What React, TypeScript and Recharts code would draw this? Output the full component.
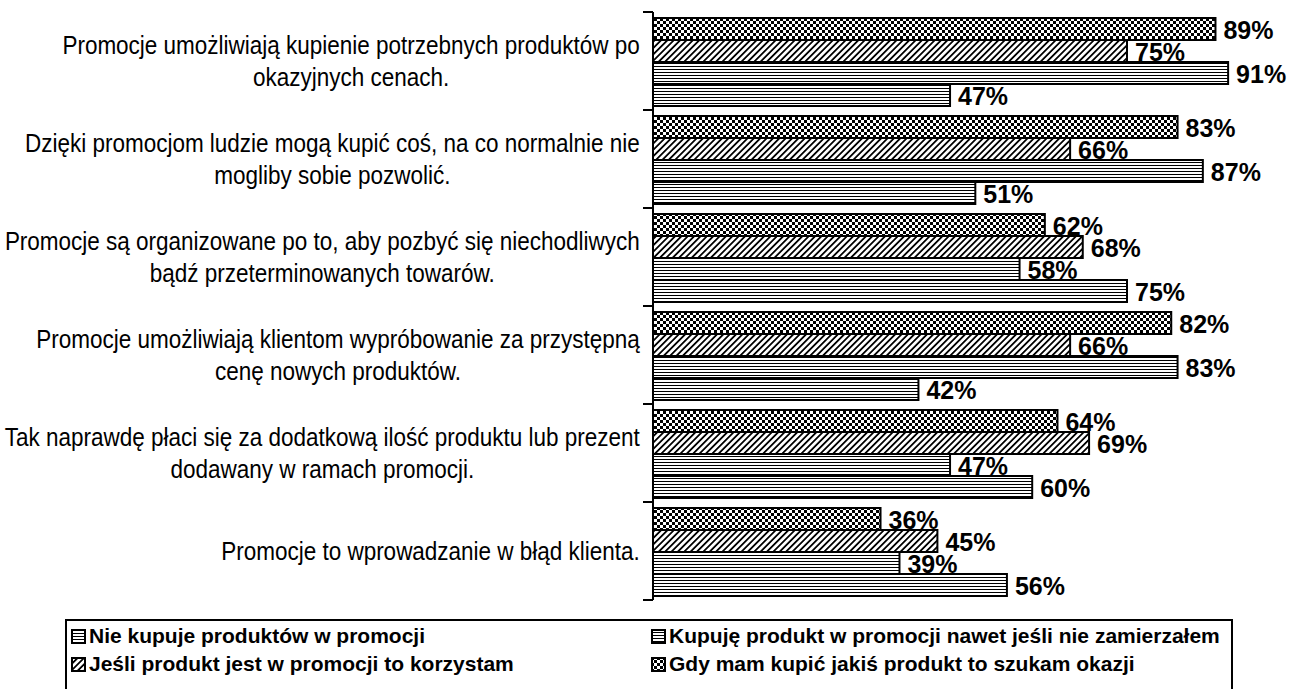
import React from 'react';
import { BarChart, Bar, XAxis, YAxis, LabelList } from 'recharts';

const categories = [
  'Promocje umożliwiają kupienie potrzebnych produktów po\nokazyjnych cenach.',
  'Dzięki promocjom ludzie mogą kupić coś, na co normalnie nie\nmogliby sobie pozwolić.',
  'Promocje są organizowane po to, aby pozbyć się niechodliwych\nbądź przeterminowanych towarów.',
  'Promocje umożliwiają klientom wypróbowanie za przystępną\ncenę nowych produktów.',
  'Tak naprawdę płaci się za dodatkową ilość produktu lub prezent\ndodawany w ramach promocji.',
  'Promocje to wprowadzanie w błąd klienta.',
];

const gdyMamKupic = [89, 83, 62, 82, 64, 36];
const jesliWPromocji = [75, 66, 68, 66, 69, 45];
const kupujeNawet = [91, 87, 58, 83, 47, 39];
const nieKupuje = [47, 51, 75, 42, 60, 56];

const seriesNames = {
  nie: 'Nie kupuje produktów w promocji',
  kupuje: 'Kupuję produkt w promocji nawet jeśli nie zamierzałem',
  jesli: 'Jeśli produkt jest w promocji to korzystam',
  gdy: 'Gdy mam kupić jakiś produkt to szukam okazji',
};

const data = categories.map((name, i) => ({
  name,
  gdy: gdyMamKupic[i],
  jesli: jesliWPromocji[i],
  kupuje: kupujeNawet[i],
  nie: nieKupuje[i],
}));

const FONT = "'Liberation Sans', Arial, sans-serif";
const AXIS_X = 653;
const TEXT_RIGHT = 640;
const CAT_SIZE = 25;
const CAT_SCALE_X = 0.9;

let ctx: CanvasRenderingContext2D | null = null;
function measure(s: string, font: string) {
  if (!ctx) ctx = document.createElement('canvas').getContext('2d');
  if (!ctx) return s.length * 10;
  ctx.font = font;
  return ctx.measureText(s).width;
}

function CategoryTick(props: any) {
  const { y, payload, index } = props;
  const half = payload.offset ?? 49;
  const lines: string[] = String(payload.value).split('\n');
  const widths = lines.map((l) => measure(l, `${CAT_SIZE}px ${FONT}`) * CAT_SCALE_X);
  const maxW = Math.max(...widths);
  const cx = TEXT_RIGHT - maxW / 2;
  const lh = 32;
  const y0 = y - ((lines.length - 1) * lh) / 2;
  return (
    <g>
      <line x1={AXIS_X - 10} x2={AXIS_X} y1={y - half} y2={y - half} stroke="#000" strokeWidth={2} />
      {index === categories.length - 1 && (
        <line x1={AXIS_X - 10} x2={AXIS_X} y1={y + half} y2={y + half} stroke="#000" strokeWidth={2} />
      )}
      {lines.map((l, i) => (
        <text
          key={i}
          transform={`translate(${cx},${y0 + i * lh}) scale(${CAT_SCALE_X},1)`}
          textAnchor="middle"
          dominantBaseline="central"
          fontFamily={FONT}
          fontSize={CAT_SIZE}
          fill="#000"
        >
          {l}
        </text>
      ))}
    </g>
  );
}

function ValueLabel(props: any) {
  const { x, y, width, height, value } = props;
  const txt = `${value}%`;
  const w = measure(txt, `bold 25px ${FONT}`);
  const tx = x + width + 8;
  const cy = y + height / 2;
  return (
    <g>
      <rect x={tx - 3} y={cy - 10} width={w + 6} height={20} fill="#fff" />
      <text x={tx} y={cy + 1} dominantBaseline="central" fontFamily={FONT} fontSize={25} fontWeight="bold" fill="#000">
        {txt}
      </text>
    </g>
  );
}

function Patterns() {
  return (
    <svg width={0} height={0} style={{ position: 'absolute' }}>
      <defs>
        <pattern id="pCheck" patternUnits="userSpaceOnUse" width={6} height={6}>
          <rect width={6} height={6} fill="#fff" />
          <rect x={0} y={0} width={3} height={3} fill="#000" />
          <rect x={3} y={3} width={3} height={3} fill="#000" />
        </pattern>
        <pattern id="pDiag" patternUnits="userSpaceOnUse" width={4.5} height={4.5} patternTransform="rotate(45)">
          <rect width={4.5} height={4.5} fill="#fff" />
          <rect x={0} y={0} width={1.8} height={4.5} fill="#000" />
        </pattern>
        <pattern id="pLinesA" patternUnits="userSpaceOnUse" width={4} height={3}>
          <rect width={4} height={3} fill="#fff" />
          <rect x={0} y={0} width={4} height={1} fill="#000" />
        </pattern>
        <pattern id="pLinesB" patternUnits="userSpaceOnUse" width={4} height={3}>
          <rect width={4} height={3} fill="#fff" />
          <rect x={0} y={1} width={4} height={1} fill="#000" />
        </pattern>
      </defs>
    </svg>
  );
}

const legendItems = [
  { key: 'nie', fill: 'url(#pLinesB)' },
  { key: 'kupuje', fill: 'url(#pLinesA)' },
  { key: 'jesli', fill: 'url(#pDiag)' },
  { key: 'gdy', fill: 'url(#pCheck)' },
];

function LegendBox() {
  return (
    <div
      style={{
        position: 'absolute',
        left: 65,
        top: 619,
        width: 1168,
        height: 90,
        border: '2px solid #000',
        boxSizing: 'border-box',
        display: 'grid',
        gridTemplateColumns: '580px 1fr',
        gridAutoRows: '28px',
        paddingTop: 1,
        paddingLeft: 4,
        fontFamily: FONT,
        fontWeight: 'bold',
        fontSize: 21,
      }}
    >
      {legendItems.map((it) => (
        <div key={it.key} style={{ display: 'flex', alignItems: 'center', whiteSpace: 'nowrap' }}>
          <svg width={15} height={15} style={{ marginRight: 3 }}>
            <rect x={1} y={1} width={13} height={13} fill={it.fill} stroke="#000" strokeWidth={2} />
          </svg>
          {seriesNames[it.key as keyof typeof seriesNames]}
        </div>
      ))}
    </div>
  );
}

export default function App() {
  return (
    <div style={{ position: 'absolute', left: 0, top: 0, width: 1300, height: 689, background: '#fff', overflow: 'hidden' }}>
      <Patterns />
      <BarChart
        width={1300}
        height={689}
        data={data}
        layout="vertical"
        margin={{ top: 12, right: 15, left: 0, bottom: 89 }}
        barCategoryGap={6}
        barGap={0}
      >
        <XAxis type="number" domain={[0, 100]} hide />
        <YAxis
          type="category"
          dataKey="name"
          width={AXIS_X}
          interval={0}
          axisLine={{ stroke: '#000', strokeWidth: 2 }}
          tickLine={false}
          tick={<CategoryTick />}
        />
        <Bar dataKey="gdy" fill="url(#pCheck)" stroke="#000" strokeWidth={2} isAnimationActive={false}>
          <LabelList dataKey="gdy" content={<ValueLabel />} />
        </Bar>
        <Bar dataKey="jesli" fill="url(#pDiag)" stroke="#000" strokeWidth={2} isAnimationActive={false}>
          <LabelList dataKey="jesli" content={<ValueLabel />} />
        </Bar>
        <Bar dataKey="kupuje" fill="url(#pLinesA)" stroke="#000" strokeWidth={2} isAnimationActive={false}>
          <LabelList dataKey="kupuje" content={<ValueLabel />} />
        </Bar>
        <Bar dataKey="nie" fill="url(#pLinesB)" stroke="#000" strokeWidth={2} isAnimationActive={false}>
          <LabelList dataKey="nie" content={<ValueLabel />} />
        </Bar>
      </BarChart>
      <LegendBox />
    </div>
  );
}
